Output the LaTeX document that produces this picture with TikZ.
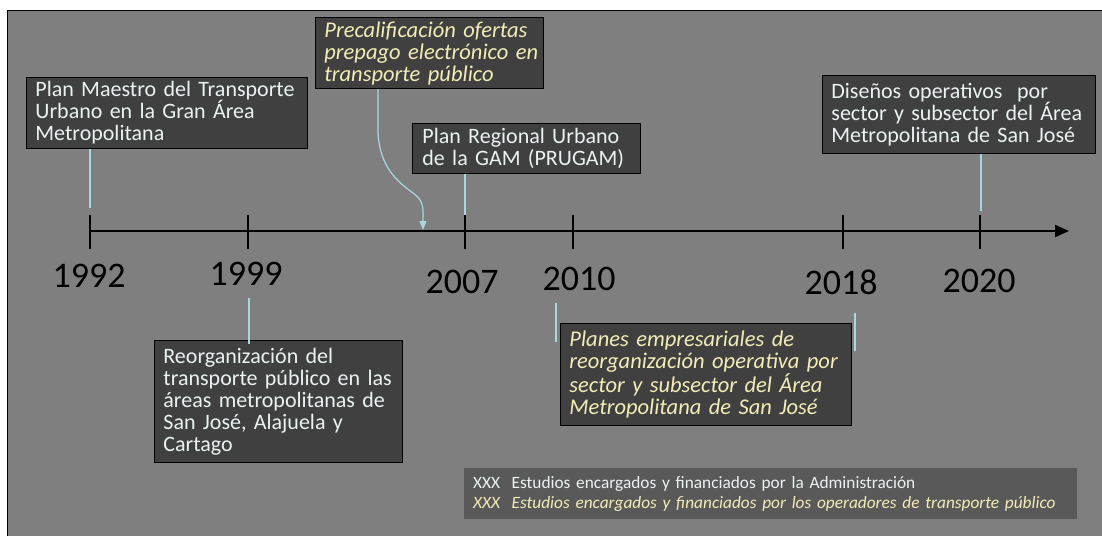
\documentclass[tikz,border=0pt]{standalone}
\usepackage{fontspec}
\setmainfont{Carlito}
\usetikzlibrary{arrows.meta,positioning,calc}
\definecolor{bgray}{HTML}{7F7F7F}
\definecolor{boxfill}{HTML}{404040}
\definecolor{legfill}{HTML}{595959}
\definecolor{admtxt}{HTML}{EAF2F2}
\definecolor{optxt}{HTML}{F2EDB6}
\definecolor{linkc}{HTML}{A8D8DE}
\begin{document}
\begin{tikzpicture}[x=1pt,y=-1pt,
  evt/.style={draw=black,line width=0.8pt,fill=boxfill,text=admtxt,anchor=north west,
    align=left,inner xsep=9pt,inner ysep=4pt,font=\fontsize{22}{22}\selectfont,
    execute at begin node={\rightskip=-14pt plus 1fil\relax}},
  opr/.style={evt,text=optxt,font=\fontsize{22.5}{22}\selectfont\itshape},
  year/.style={font=\fontsize{36}{40}\selectfont},
  conn/.style={draw=linkc,line width=1.2pt},
  tl/.style={line width=2pt}]
\useasboundingbox (0,0) rectangle (1102,536);
\fill[bgray] (7,10) rectangle (1102,536);
\draw[line width=1pt] (7,536) -- (7,10) -- (1102,10);

\coordinate (t1992) at (90,231);
\coordinate (t1999) at (248,231);
\coordinate (t2007) at (465,231);
\coordinate (t2010) at (573,231);
\coordinate (t2018) at (843,231);
\coordinate (t2020) at (980,231);
\coordinate (tend) at (1069,231);

\node[evt,text width=263pt,minimum height=70pt] (maestro) at (26,77)
  {Plan Maestro del Transporte\\Urbano en la Gran Área\\Metropolitana};
\node[opr,text width=210pt,minimum height=71pt] (precal) at (315,17)
  {Precalificación ofertas\\prepago electrónico en\\transporte público};
\node[evt,text width=208pt,inner xsep=10pt,minimum height=50pt] (regional) at (412,123)
  {Plan Regional Urbano\\de la GAM (PRUGAM)};
\node[evt,text width=255pt,minimum height=78pt] (disenos) at (822,75)
  {Diseños operativos\ \ por\\sector y subsector del Área\\Metropolitana de San José};
\node[evt,text width=230pt,minimum height=122pt] (reorg) at (154,340)
  {Reorganización del\\transporte público en las\\áreas metropolitanas de\\San José, Alajuela y\\Cartago};
\node[opr,text width=273pt,minimum height=102pt] (planes) at (560,323)
  {Planes empresariales de\\reorganización operativa por\\sector y subsector del Área\\Metropolitana de San José};
\node[fill=legfill,anchor=north west,align=left,text width=595pt,minimum height=51pt,
  inner xsep=9pt,inner ysep=4pt,font=\fontsize{17.3}{20}\selectfont] (legend) at (464,468)
  {\textcolor{admtxt}{XXX\ \ Estudios encargados y financiados por la Administración}\\
   \textcolor{optxt}{\itshape XXX\ \ Estudios encargados y financiados por los operadores de transporte público}};

\node[year] (y1992) at (89,276) {1992};
\node[year] (y1999) at (246,274) {1999};
\node[year] (y2007) at (462,282) {2007};
\node[year] (y2010) at (579,279) {2010};
\node[year] (y2018) at (841,282) {2018};
\node[year] (y2020) at (979,281) {2020};

\coordinate (c1992) at (90,208);
\coordinate (c2007) at (465,217);
\coordinate (c2020) at (981,211);
\coordinate (c1999) at (249,298);
\coordinate (c2010) at (556,303);
\coordinate (c2018) at (855,313);
\coordinate (ptip) at (423,230);

\draw[conn] (maestro.south -| c1992) -- (c1992);
\draw[conn] (regional.south -| c2007) -- (c2007);
\draw[conn] (disenos.south -| c2020) -- (c2020);
\draw[conn] (c1999) -- ([yshift=-4pt]c1999 |- reorg.north);
\draw[conn] (c2010) -- ++(0,39);
\draw[conn] (c2018) -- ++(0,38);
\draw[conn,-{Triangle[length=9pt,width=7pt]}] ([xshift=63pt]precal.south west) -- (378,133)
  .. controls (380,168) and (398,182) .. (413,193)
  .. controls (421,199) and (423,204) .. (423,212) -- (ptip);

\draw[tl,-{Triangle[length=14pt,width=12pt]}] (t1992) -- (tend);
\foreach \t in {1992,1999,2007,2010,2018,2020}
  \draw[tl] ($(t\t)+(0,-16)$) -- ($(t\t)+(0,18)$);
\end{tikzpicture}
\end{document}
